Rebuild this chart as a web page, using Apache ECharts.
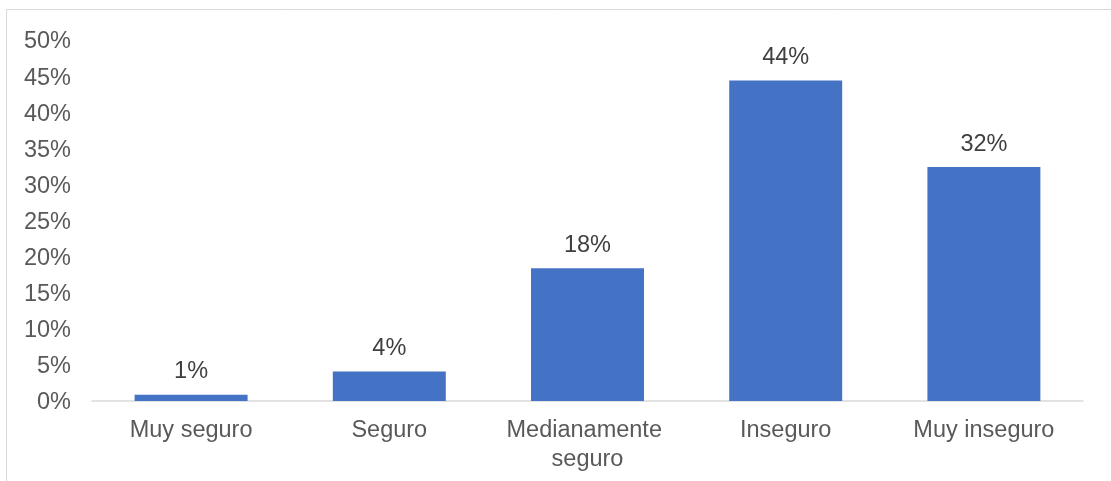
<!DOCTYPE html>
<html>
<head>
<meta charset="utf-8">
<script src="https://cdn.jsdelivr.net/npm/echarts@6/dist/echarts.min.js"></script>
<style>
html,body{margin:0;padding:0;background:#fff;}
#c{width:1111px;height:481px;}
</style>
</head>
<body>
<div id="c"></div>
<script>
const categories = ['Muy seguro', 'Seguro', 'Medianamente seguro', 'Inseguro', 'Muy inseguro'];
const values = [0.85, 4.1, 18.4, 44.4, 32.4];
const yMin = 0, yMax = 50, yStep = 5;

const chart = echarts.init(document.getElementById('c'), null, {renderer: 'canvas'});
chart.setOption({
  animation: false,
  textStyle: {fontFamily: '"Liberation Sans", Arial, sans-serif'},
  graphic: [{
    type: 'rect',
    shape: {x: 6.5, y: 9.5, width: 1300, height: 700},
    style: {fill: 'none', stroke: '#d9d9d9', lineWidth: 1},
    silent: true
  }],
  grid: {left: 92, right: 28, top: 40, bottom: 80},
  xAxis: {
    type: 'category',
    data: categories,
    axisLine: {show: true, lineStyle: {color: '#d9d9d9', width: 1.5}},
    axisTick: {show: false},
    axisLabel: {
      color: '#595959', fontSize: 23.5, margin: 15, lineHeight: 29,
      width: 190, overflow: 'break', interval: 0
    }
  },
  yAxis: {
    type: 'value',
    min: yMin, max: yMax, interval: yStep,
    axisLine: {show: false},
    axisTick: {show: false},
    splitLine: {show: false},
    axisLabel: {color: '#595959', fontSize: 23.5, margin: 21, verticalAlign: 'top', lineHeight: 4, formatter: '{value}%'}
  },
  series: [{
    type: 'bar',
    data: values,
    barWidth: '57%',
    itemStyle: {color: '#4472C4'},
    label: {
      show: true, position: 'top', distance: 11,
      color: '#404040', fontSize: 23.5,
      formatter: p => Math.round(p.value) + '%'
    }
  }]
});
</script>
</body>
</html>
